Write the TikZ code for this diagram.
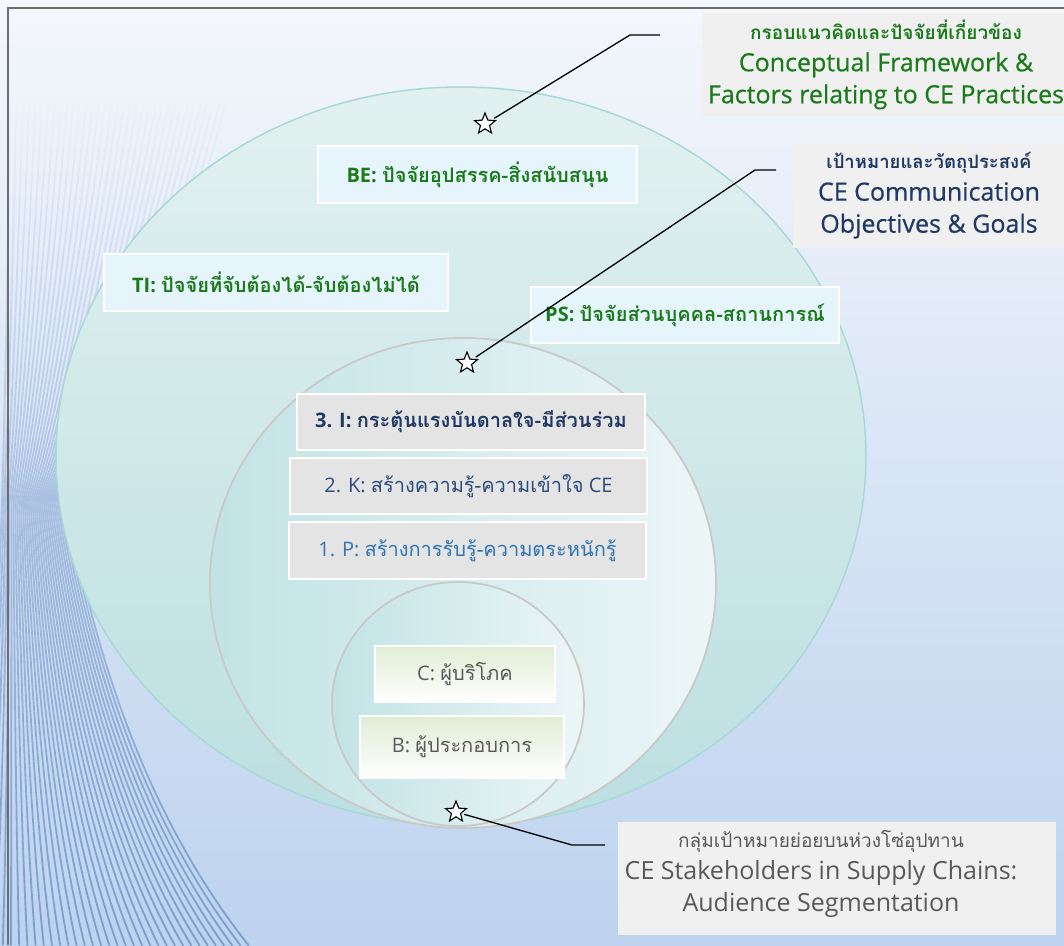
\documentclass[tikz,border=0pt]{standalone}
\usepackage{fontspec}
\setmainfont{Open Sans}
\newfontfamily\medf[FakeBold=0.5]{Open Sans}
\newfontfamily\thaif[Script=Thai]{Loma}
\usetikzlibrary{shapes.geometric,fadings}
\definecolor{bgtop}{HTML}{F4F7FC}
\definecolor{bgbot}{HTML}{BDD3EE}
\definecolor{olinecol}{HTML}{7C9DCF}
\definecolor{outtop}{HTML}{E2F1F0}
\definecolor{outbot}{HTML}{BCDFE1}
\definecolor{outedge}{HTML}{A9D9D6}
\definecolor{midleft}{HTML}{C2E3E5}
\definecolor{midright}{HTML}{ECF6F7}
\definecolor{ringgray}{HTML}{C9C9C9}
\definecolor{lblue}{HTML}{E6F5FC}
\definecolor{lgray}{HTML}{E4E4E4}
\definecolor{cgray}{HTML}{F0F0F0}
\definecolor{lgreen}{HTML}{E0EDD4}
\definecolor{tgreen}{HTML}{1C7A1C}
\definecolor{tnavy}{HTML}{1F3864}
\definecolor{tnavy2}{HTML}{2A4C7C}
\definecolor{tblue}{HTML}{2E75B6}
\definecolor{tgray}{HTML}{595959}
\definecolor{framegray}{HTML}{6E6E6E}
\tikzfading[name=linefade, top color=transparent!100, middle color=transparent!90, bottom color=transparent!0]
\begin{document}
\begin{tikzpicture}[x=1pt,y=-1pt,
  lbox/.style={draw=white, line width=1.6pt, fill=lblue, inner sep=0pt,
    font=\bfseries\fontsize{20}{24}\selectfont, text=tgreen},
  gbox/.style={draw=white, line width=1.6pt, fill=lgray, inner sep=0pt,
    font=\fontsize{20}{24}\selectfont},
  cbox/.style={draw=white, line width=1.2pt, top color=lgreen, bottom color=white, inner sep=0pt,
    font=\fontsize{20}{24}\selectfont, text=tgray},
  callout/.style={fill=cgray, inner sep=0pt, align=center, font=\medf\fontsize{25}{32}\selectfont},
  starnode/.style={star, star points=5, star point ratio=2.3, draw=black, fill=white,
    line width=1.1pt, minimum size=22pt, inner sep=0pt},
  leader/.style={draw=black, line width=1.3pt, shorten <=3pt}
]
\useasboundingbox (0,0) rectangle (1064,945);
% background
\shade[top color=bgtop, bottom color=bgbot] (0,0) rectangle (1064,945);
% background lines
\foreach \i in {0,...,34}{
  \pgfmathsetmacro{\a}{2+1.9*\i}
  \pgfmathsetmacro{\b}{-30+8.2*\i}
  \pgfmathsetmacro{\c}{10+6.4*\i}
  \draw[olinecol, line width=1.8pt, path fading=linefade]
    (\c,95) .. controls ({\a+0.7*(\c-\a)},280) and ({\a+0.3*(\c-\a)},430) .. (\a,500)
    .. controls ({\a+0.18*(\b-\a)},680) and ({\a+0.5*(\b-\a)},830) .. (\b,945);
}
% frame
\draw[framegray, line width=1.2pt] (8,945) -- (8,8) -- (1064,8);
% circles
\path[top color=outtop, bottom color=outbot, draw=outedge, line width=1.5pt] (461,456) ellipse [x radius=405, y radius=369];
\path[left color=midleft, right color=midright, draw=ringgray, line width=1.8pt] (463,583) ellipse [x radius=253, y radius=245];
\path[left color=midleft, right color=midright, draw=ringgray, line width=1.8pt] (458,704) ellipse [x radius=126, y radius=122];
% label boxes
\node[lbox, minimum width=319pt, minimum height=57pt] (be) at (477.5,174.5) {BE: {\thaif ปัจจัยอุปสรรค-สิ่งสนับสนุน}};
\node[lbox, minimum width=344pt, minimum height=57pt] (ti) at (276,282.5) {TI: {\thaif ปัจจัยที่จับต้องได้-จับต้องไม่ได้}};
\node[lbox, minimum width=308pt, minimum height=56pt] (ps) at (685,315) {PS: {\thaif ปัจจัยส่วนบุคคล-สถานการณ์}};
\node[gbox, minimum width=348pt, minimum height=56pt, text=tnavy, font=\bfseries\fontsize{20}{24}\selectfont] (l3) at (471,422) {3. I: {\thaif กระตุ้นแรงบันดาลใจ-มีส่วนร่วม}};
\node[gbox, minimum width=357pt, minimum height=56pt, text=tnavy2] (l2) at (468.5,486) {2. K: {\thaif สร้างความรู้-ความเข้าใจ} CE};
\node[gbox, minimum width=357pt, minimum height=57pt, text=tblue] (l1) at (467.5,550.5) {1. P: {\thaif สร้างการรับรู้-ความตระหนักรู้}};
\node[cbox, minimum width=180pt, minimum height=56pt] (cc) at (465,674) {C: {\thaif ผู้บริโภค}};
\node[cbox, minimum width=204pt, minimum height=62pt] (bb) at (462,747) {B: {\thaif ผู้ประกอบการ}};
% callouts
\node[callout, minimum width=368pt, minimum height=103pt, text=tgreen] (co1) at (886,64.5)
  {{\fontsize{19}{32}\selectfont\bfseries\thaif กรอบแนวคิดและปัจจัยที่เกี่ยวข้อง}\\
   Conceptual Framework \&\\
   Factors relating to CE Practices};
\node[callout, minimum width=272pt, minimum height=105pt, text=tnavy] (co2) at (929,195.5)
  {{\fontsize{18.5}{32}\selectfont\bfseries\thaif เป้าหมายและวัตถุประสงค์}\\
   CE Communication\\
   Objectives \& Goals};
\node[callout, minimum width=438pt, minimum height=113pt] (co3) at (837,878.5) {};
\node[text=tgray, align=center, inner sep=0pt, font=\fontsize{25}{32}\selectfont] (co3t) at (821,874)
  {{\fontsize{19}{32}\selectfont\thaif กลุ่มเป้าหมายย่อยบนห่วงโซ่อุปทาน}\\
   CE Stakeholders in Supply Chains:\\
   Audience Segmentation};
% stars
\node[starnode] (s1) at (485,124) {};
\node[starnode] (s2) at (467,363) {};
\node[starnode] (s3) at (456,812) {};
% leaders
\coordinate (k1) at (630,35);
\coordinate (e1) at (660,35);
\coordinate (k2) at (755,170);
\coordinate (e2) at (776,170);
\coordinate (k3) at (572,845);
\coordinate (e3) at (605,845);
\draw[leader] (s1) -- (k1) -- (e1);
\draw[leader] (s2) -- (k2) -- (e2);
\draw[leader] (s3) -- (k3) -- (e3);
\end{tikzpicture}
\end{document}
